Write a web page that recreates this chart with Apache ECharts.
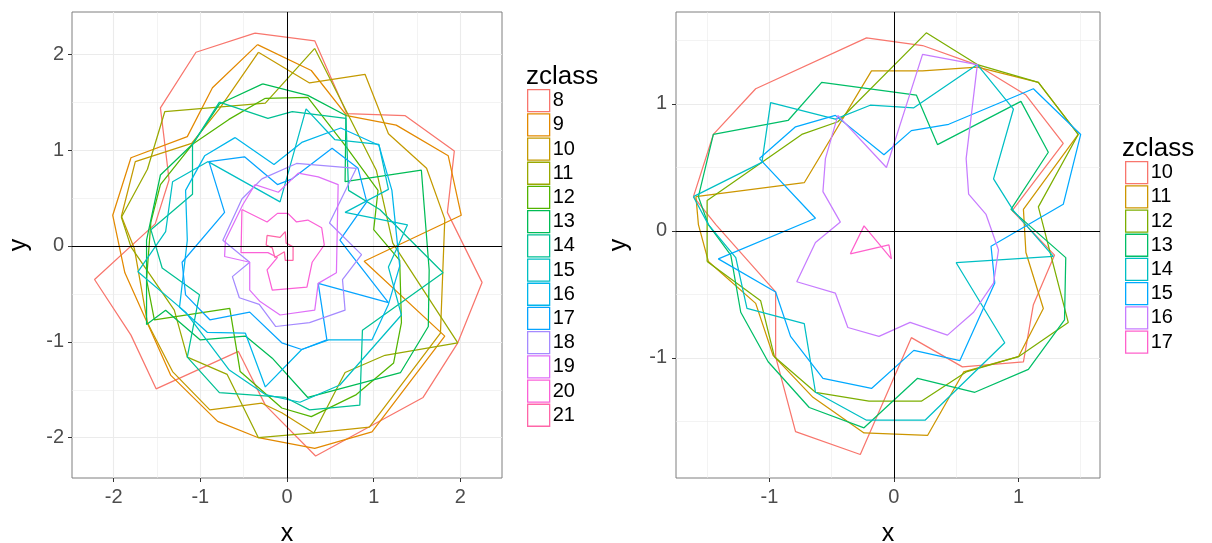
<!DOCTYPE html>
<html>
<head>
<meta charset="utf-8">
<script src="https://cdn.jsdelivr.net/npm/echarts@6/dist/echarts.min.js"></script>
<style>
  html, body { margin: 0; padding: 0; background: #ffffff; }
  #chart { width: 1212px; height: 543px; }
</style>
</head>
<body>
<div id="chart"></div>
<script>
// ---- Left panel: one closed contour path per zclass, vertices as [x, y] ----
const left08 = [[-0.37,2.22],[0.32,2.14],[0.69,1.38],[1.36,1.36],[1.93,0.99],[1.85,0.35],[2.25,-0.38],[1.97,-1.01],[1.57,-1.58],[0.33,-2.19],[-0.25,-1.66],[-0.56,-1.10],[-1.51,-1.49],[-1.80,-0.93],[-2.22,-0.35],[-1.52,0.23],[-1.36,0.69],[-1.46,1.44],[-1.05,2.02]];
const left09 = [[-0.34,2.10],[0.28,1.83],[0.69,1.36],[1.26,1.26],[1.86,0.94],[2.01,0.32],[0.89,-0.16],[1.82,-0.94],[0.98,-1.94],[0.32,-2.11],[-0.33,-2.00],[-0.80,-1.83],[-1.34,-1.35],[-1.87,-0.28],[-2.01,0.32],[-1.80,0.92],[-1.15,1.14],[-0.86,1.65]];
const left10 = [[-0.33,2.02],[0.26,1.70],[0.90,1.79],[1.17,1.17],[1.61,0.81],[1.82,0.28],[1.77,-0.91],[0.95,-1.89],[0.31,-1.95],[-0.06,-1.74],[-0.29,-1.64],[-0.89,-1.71],[-1.32,-1.31],[-1.61,-0.80],[-1.76,-0.03],[-1.91,0.31],[-1.75,0.88],[-1.10,1.07],[-0.78,1.43]];
const left11 = [[0.32,2.06],[0.71,1.36],[1.03,0.79],[1.22,0.03],[1.97,-1.01],[1.13,-1.14],[0.67,-1.32],[0.31,-1.95],[-0.33,-2.00],[-0.69,-1.34],[-1.15,-1.16],[-1.30,-0.67],[-1.80,-0.01],[-1.91,0.30],[-1.61,0.80],[-1.41,1.40],[-0.25,1.49]];
const left12 = [[-0.25,1.54],[0.24,1.55],[0.67,1.05],[1.05,0.58],[1.00,0.17],[1.30,-0.15],[1.32,-0.80],[1.23,-1.22],[0.80,-1.55],[0.28,-1.78],[-0.06,-1.69],[-0.54,-1.31],[-0.66,-0.65],[-1.53,-0.77],[-1.62,-0.35],[-1.57,0.25],[-1.46,0.64],[-1.09,1.06],[-0.67,1.32]];
const left13 = [[-0.28,1.69],[0.24,1.57],[0.68,1.36],[0.67,0.67],[1.55,0.79],[1.64,-0.25],[1.63,-0.84],[1.31,-1.32],[0.24,-1.58],[-0.17,-1.17],[-0.48,-0.94],[-1.00,-0.98],[-1.40,-0.67],[-1.62,-0.82],[-1.62,0.06],[-1.46,0.74],[-1.09,1.06],[-0.78,1.48]];
const left14 = [[-0.78,1.50],[-0.22,1.33],[0.06,1.40],[0.68,1.33],[0.71,0.58],[1.07,0.38],[1.80,-0.28],[0.87,-0.88],[0.84,-1.66],[0.26,-1.71],[-0.02,-1.58],[-0.78,-1.53],[-1.15,-1.16],[-1.01,-0.51],[-1.44,-0.23],[-1.57,0.17],[-1.09,0.54],[-1.09,1.06]];
const left15 = [[-0.91,0.88],[-0.08,0.46],[0.22,1.43],[0.55,1.11],[1.06,1.06],[1.17,0.59],[0.67,0.35],[1.39,0.22],[1.17,-0.22],[1.32,-0.72],[0.61,-1.45],[0.15,-1.63],[-0.25,-1.55],[-0.67,-1.29],[-1.17,-0.69],[-1.72,-0.27],[-1.40,0.15],[-1.32,0.67]];
const left16 = [[-0.60,1.13],[-0.15,0.85],[0.17,1.08],[0.62,1.23],[1.06,1.05],[1.21,0.58],[1.30,-0.21],[1.17,-0.61],[0.98,-0.98],[0.48,-0.98],[0.17,-1.08],[-0.25,-1.47],[-0.48,-0.91],[-0.92,-0.90],[-1.24,-0.64],[-1.15,0.06],[-1.17,0.58],[-0.95,0.94]];
const left17 = [[-0.90,0.88],[-0.49,0.93],[-0.11,0.64],[0.06,0.70],[0.52,1.02],[0.82,0.81],[0.92,0.46],[0.61,0.06],[1.17,-0.59],[0.36,-0.39],[0.46,-0.98],[0.17,-1.08],[-0.06,-1.01],[-0.43,-0.69],[-0.89,-0.77],[-1.17,-0.51],[-1.21,-0.17],[-0.72,0.35]];
const left18 = [[-0.29,0.70],[0.11,0.86],[0.80,0.81],[0.49,0.24],[0.86,-0.09],[0.64,-0.35],[0.67,-0.67],[0.26,-0.80],[-0.13,-0.84],[-0.32,-0.61],[-0.55,-0.54],[-0.63,-0.32],[-0.43,-0.17],[-0.74,0.06],[-0.52,0.49]];
const left19 = [[-0.37,0.64],[-0.10,0.56],[0.13,0.76],[0.36,0.72],[0.59,0.64],[0.57,-0.28],[0.36,-0.39],[0.32,-0.67],[-0.08,-0.72],[-0.31,-0.58],[-0.43,-0.46],[-0.43,-0.17],[-0.72,-0.11],[-0.71,0.06],[-0.51,0.43]];
const left20 = [[-0.52,0.38],[-0.23,0.25],[-0.11,0.34],[0.01,0.34],[0.11,0.25],[0.24,0.27],[0.40,0.19],[0.43,0.01],[0.29,-0.17],[0.23,-0.43],[-0.17,-0.46],[-0.23,-0.25],[-0.11,-0.12],[-0.22,-0.07],[-0.53,-0.07]];
const left21 = [[-0.23,0.11],[-0.08,0.09],[-0.02,0.15],[-0.01,0.03],[0.07,-0.01],[0.07,-0.15],[-0.02,-0.15],[-0.03,-0.06],[-0.14,-0.12],[-0.17,-0.02],[-0.24,0.01]];

// ---- Right panel ----
const right10 = [[-1.61,0.27],[-1.45,0.76],[-1.11,1.12],[-0.22,1.52],[0.23,1.46],[0.66,1.31],[1.06,1.07],[1.36,0.69],[0.95,0.16],[1.29,-0.19],[1.12,-0.58],[1.04,-1.03],[0.55,-1.07],[0.14,-0.84],[-0.27,-1.76],[-0.79,-1.58],[-0.95,-0.99],[-0.95,-0.48],[-1.43,0.05]];
const right11 = [[-1.59,0.27],[-0.72,0.38],[-0.18,1.26],[0.23,1.26],[0.67,1.29],[1.16,1.17],[1.48,0.76],[1.04,0.17],[1.06,-0.17],[1.20,-0.61],[1.00,-0.99],[0.56,-1.11],[0.27,-1.61],[-0.24,-1.59],[-0.65,-1.31],[-0.97,-0.98],[-1.11,-0.57],[-1.49,-0.24],[-1.57,0.05]];
const right12 = [[-1.50,-0.24],[-1.50,0.24],[-0.74,0.76],[-0.45,0.86],[0.26,1.56],[0.67,1.31],[1.16,1.17],[1.48,0.76],[1.16,0.19],[1.40,-0.72],[1.00,-0.99],[0.58,-1.11],[0.22,-1.34],[-0.20,-1.34],[-0.63,-1.27],[-0.96,-0.99],[-1.07,-0.55]];
const right13 = [[-1.57,0.27],[-1.45,0.76],[-0.85,0.87],[-0.58,1.17],[0.18,1.07],[0.35,0.68],[1.02,1.02],[1.24,0.62],[0.94,0.17],[1.38,-0.21],[1.37,-0.70],[1.08,-1.09],[0.65,-1.27],[0.19,-1.16],[-0.24,-1.55],[-0.68,-1.39],[-1.01,-1.03],[-1.23,-0.64],[-1.31,-0.19],[-1.49,0.05]];
const right14 = [[-1.61,0.27],[-1.06,0.54],[-0.99,1.01],[-0.47,0.88],[-0.19,0.99],[0.16,0.97],[0.67,1.31],[0.96,0.96],[0.80,0.41],[0.96,0.16],[1.28,-0.20],[0.50,-0.25],[0.89,-0.88],[0.25,-1.49],[-0.22,-1.49],[-0.63,-1.27],[-0.72,-0.73],[-1.18,-0.61],[-1.27,-0.21],[-1.49,0.05]];
const right15 = [[-1.08,0.57],[-0.79,0.82],[-0.47,0.91],[-0.08,0.60],[0.14,0.79],[0.44,0.84],[1.12,1.12],[1.50,0.76],[1.36,0.21],[0.78,-0.12],[0.81,-0.41],[0.53,-1.02],[0.16,-0.94],[-0.18,-1.24],[-0.57,-1.16],[-0.83,-0.83],[-0.95,-0.48],[-1.41,-0.22],[-0.63,0.10]];
const right16 = [[-0.45,0.91],[-0.06,0.50],[0.23,1.39],[0.67,1.31],[0.58,0.57],[0.60,0.29],[0.74,0.13],[0.84,-0.15],[0.80,-0.41],[0.64,-0.64],[0.43,-0.82],[0.13,-0.72],[-0.12,-0.83],[-0.37,-0.76],[-0.47,-0.49],[-0.78,-0.40],[-0.63,-0.09],[-0.43,0.07],[-0.57,0.31],[-0.55,0.57]];
const right17 = [[-0.35,-0.18],[-0.24,0.04],[-0.02,-0.22],[-0.04,-0.11]];

const leftClasses  = ['8','9','10','11','12','13','14','15','16','17','18','19','20','21'];
const rightClasses = ['10','11','12','13','14','15','16','17'];
const leftPaths  = [left08,left09,left10,left11,left12,left13,left14,left15,left16,left17,left18,left19,left20,left21];
const rightPaths = [right10,right11,right12,right13,right14,right15,right16,right17];

// axis breaks
const leftMajor  = [-2, -1, 0, 1, 2];
const leftMinor  = [-1.5, -0.5, 0.5, 1.5];
const rightMajor = [-1, 0, 1];
const rightMinor = [-1.5, -0.5, 0.5, 1.5];

// ggplot-style evenly spaced HCL hues (c = 100, l = 65)
function hclHex(h, c, l) {
  const hr = h * Math.PI / 180;
  const U = c * Math.cos(hr), V = c * Math.sin(hr);
  const Xn = 95.047, Yn = 100.0, Zn = 108.883;
  const den = Xn + 15 * Yn + 3 * Zn;
  const un = 4 * Xn / den, vn = 9 * Yn / den;
  const Y = Yn * (l > 7.999592 ? Math.pow((l + 16) / 116, 3) : l / 903.3);
  const u = U / (13 * l) + un, v = V / (13 * l) + vn;
  const X = 9 * Y * u / (4 * v);
  const Z = -X / 3 - 5 * Y + 3 * Y / v;
  const g = t => {
    t = t / 100;
    t = t > 0.00304 ? 1.055 * Math.pow(t, 1 / 2.4) - 0.055 : 12.92 * t;
    t = Math.min(1, Math.max(0, t));
    return Math.round(t * 255).toString(16).padStart(2, '0');
  };
  return '#' + g(3.240479 * X - 1.537150 * Y - 0.498535 * Z) +
               g(-0.969256 * X + 1.875992 * Y + 0.041556 * Z) +
               g(0.055648 * X - 0.204043 * Y + 1.057311 * Z);
}
function huePal(n) {
  const out = [];
  for (let i = 0; i < n; i++) out.push(hclHex(15 + 360 * i / n, 100, 65));
  return out;
}
const leftColors = huePal(leftClasses.length);
const rightColors = huePal(rightClasses.length);

const FONT = '"Liberation Sans", Arial, Helvetica, sans-serif';
const closePath = p => p.concat([p[0]]);

function axisPair(idx, xr, yr, major, yMajor, yNameGap, yLabelMargin) {
  const common = {
    gridIndex: idx, type: 'value',
    axisLine: { show: false, onZero: false },
    splitLine: { show: false },
    axisTick: { show: true, length: 4, lineStyle: { color: '#333333', width: 1 } },
    nameLocation: 'middle',
    nameTextStyle: { fontSize: 25, color: '#000000', fontFamily: FONT }
  };
  const x = Object.assign({}, common, {
    min: xr[0], max: xr[1], name: 'x', nameGap: 44,
    axisTick: Object.assign({}, common.axisTick, { customValues: major }),
    axisLabel: { customValues: major, fontSize: 20, color: '#4D4D4D', fontFamily: FONT, margin: 9 }
  });
  const y = Object.assign({}, common, {
    min: yr[0], max: yr[1], name: 'y', nameGap: yNameGap, nameRotate: 90,
    axisTick: Object.assign({}, common.axisTick, { customValues: yMajor }),
    axisLabel: { customValues: yMajor, fontSize: 20, color: '#4D4D4D', fontFamily: FONT, margin: yLabelMargin }
  });
  return [x, y];
}

const [lx, ly] = axisPair(0, [-2.48, 2.48], [-2.42, 2.44], leftMajor, leftMajor, 40, 8);
const [rx, ry] = axisPair(1, [-1.75, 1.655], [-1.945, 1.724], rightMajor, rightMajor, 44, 9);

// grid lines under the paths, zero reference lines above them
function guideSeries(idx, major, minor) {
  const mk = (vals, width) => vals.map(v => ({ xAxis: v, lineStyle: { width } }))
    .concat(vals.map(v => ({ yAxis: v, lineStyle: { width } })));
  return [{
    type: 'line', xAxisIndex: idx, yAxisIndex: idx, data: [], silent: true, z: 0,
    markLine: {
      z: 1, silent: true, symbol: ['none', 'none'], label: { show: false }, animation: false,
      lineStyle: { color: '#EBEBEB', type: 'solid', width: 1 },
      data: mk(minor, 0.6).concat(mk(major, 1.1))
    }
  }, {
    type: 'line', xAxisIndex: idx, yAxisIndex: idx, data: [], silent: true, z: 5,
    markLine: {
      z: 6, silent: true, symbol: ['none', 'none'], label: { show: false }, animation: false,
      lineStyle: { color: '#000000', type: 'solid', width: 1 },
      data: [{ xAxis: 0 }, { yAxis: 0 }]
    }
  }];
}

function pathSeries(names, paths, colors, idx) {
  return names.map((n, i) => ({
    name: n, type: 'line', xAxisIndex: idx, yAxisIndex: idx,
    data: closePath(paths[i]), showSymbol: false, symbol: 'none',
    lineStyle: { color: colors[i], width: 1.25 }, itemStyle: { color: colors[i] },
    silent: true, z: 3
  }));
}

function legendFor(names, colors, left, top) {
  return {
    orient: 'vertical', left, top, padding: 0, itemGap: 0.9,
    itemWidth: 22, itemHeight: 22, icon: 'rect', selectedMode: false,
    textStyle: { fontSize: 20, color: '#000000', fontFamily: FONT, padding: [0, 0, 0, -2] },
    data: names.map((n, i) => ({
      name: n, icon: 'rect',
      itemStyle: { color: '#ffffff', borderColor: colors[i], borderWidth: 1.3 }
    }))
  };
}

const chart = echarts.init(document.getElementById('chart'), null, { renderer: 'canvas' });
chart.setOption({
  animation: false,
  backgroundColor: '#ffffff',
  title: [
    { text: 'zclass', left: 526, top: 64, padding: 0,
      textStyle: { fontSize: 26, fontWeight: 'normal', color: '#000000', fontFamily: FONT, lineHeight: 26 } },
    { text: 'zclass', left: 1122, top: 136, padding: 0,
      textStyle: { fontSize: 26, fontWeight: 'normal', color: '#000000', fontFamily: FONT, lineHeight: 26 } }
  ],
  grid: [
    { left: 72, top: 12, width: 430, height: 466, show: true, borderColor: '#7F7F7F', borderWidth: 1,
      backgroundColor: '#ffffff', containLabel: false, outerBoundsMode: 'none' },
    { left: 676, top: 12, width: 424, height: 466, show: true, borderColor: '#7F7F7F', borderWidth: 1,
      backgroundColor: '#ffffff', containLabel: false, outerBoundsMode: 'none' }
  ],
  xAxis: [lx, rx],
  yAxis: [ly, ry],
  legend: [
    legendFor(leftClasses, leftColors, 527, 89),
    legendFor(rightClasses, rightColors, 1125, 161)
  ],
  series: []
    .concat(guideSeries(0, leftMajor, leftMinor))
    .concat(guideSeries(1, rightMajor, rightMinor))
    .concat(pathSeries(leftClasses, leftPaths, leftColors, 0))
    .concat(pathSeries(rightClasses, rightPaths, rightColors, 1))
});
</script>
</body>
</html>
